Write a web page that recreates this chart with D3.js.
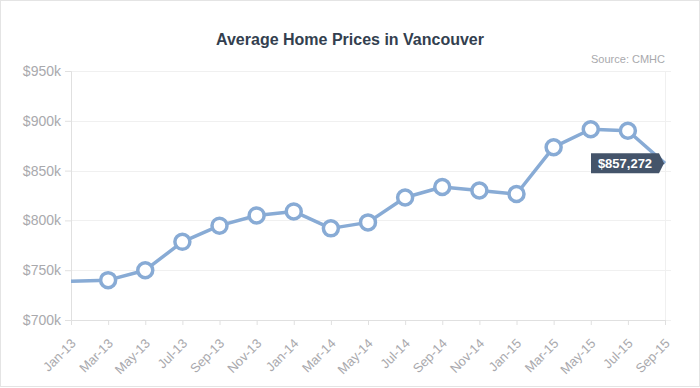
<!DOCTYPE html>
<html>
<head>
<meta charset="utf-8">
<script src="https://cdn.jsdelivr.net/npm/d3@7"></script>
<style>
body{margin:0;background:#fff;}
svg{display:block;font-family:"Liberation Sans",Arial,sans-serif;}
</style>
</head>
<body>
<div id="chart"></div>
<script>
var W = 700, H = 388;
// data
var months = ["Jan-13","Mar-13","May-13","Jul-13","Sep-13","Nov-13","Jan-14","Mar-14","May-14","Jul-14","Sep-14","Nov-14","Jan-15","Mar-15","May-15","Jul-15","Sep-15"];
var prices = [739000,740000,750000,778500,794700,805000,809000,792000,798000,823000,833500,830000,826500,873500,891500,890000,857272];
var yTicks = [700000,750000,800000,850000,900000,950000];

var lineColor = "#88abd5";
var textGray = "#a9a9ad";
var gridColor = "#f0f0f0";

var margin = {top:71, right:35, bottom:68, left:71};

var svg = d3.select("#chart").append("svg")
	.attr("width", W).attr("height", H);

// outer frame
svg.append("rect")
	.attr("x",0.5).attr("y",0.5).attr("width",W-1).attr("height",H-2)
	.attr("fill","#fff").attr("stroke","#e4e4e4");

var x = d3.scalePoint().domain(months).range([margin.left, W-margin.right]);
var y = d3.scaleLinear().domain([700000,950000]).range([H-margin.bottom, margin.top]);

// grid
svg.append("g").selectAll("line")
	.data(yTicks).enter().append("line")
	.attr("x1", margin.left).attr("x2", W-margin.right+6)
	.attr("y1", function(d){return Math.round(y(d))+0.5;})
	.attr("y2", function(d){return Math.round(y(d))+0.5;})
	.attr("stroke", gridColor);
svg.append("line")
	.attr("x1", W-margin.right+0.5).attr("x2", W-margin.right+0.5)
	.attr("y1", margin.top).attr("y2", H-margin.bottom)
	.attr("stroke", gridColor);

// y axis
var yAxis = svg.append("g")
	.attr("transform","translate("+margin.left+",0)")
	.call(d3.axisLeft(y).tickValues(yTicks).tickSize(6).tickPadding(4)
		.tickFormat(function(d){return "$"+(d/1000)+"k";}));
yAxis.select(".domain").attr("stroke","#e0e0e0");
yAxis.selectAll(".tick line").attr("stroke","#e0e0e0");
yAxis.selectAll("text").attr("fill",textGray).attr("font-size",14).attr("font-family","Liberation Sans, Arial, sans-serif");

// x axis
var xAxis = svg.append("g")
	.attr("transform","translate(0,"+(H-margin.bottom)+")")
	.call(d3.axisBottom(x).tickSize(5).tickPadding(4));
xAxis.select(".domain").attr("stroke","#e0e0e0");
xAxis.selectAll(".tick line").attr("stroke","#e0e0e0");
xAxis.selectAll("text")
	.attr("fill",textGray).attr("font-size",13).attr("font-family","Liberation Sans, Arial, sans-serif")
	.attr("text-anchor","end")
	.attr("dy","0.35em")
	.attr("transform","translate(2,21) rotate(-45)")
	.attr("y",0).attr("x",0);

// line
var data = months.map(function(m,i){return {m:m, v:prices[i]};});
svg.append("path")
	.datum(data)
	.attr("fill","none")
	.attr("stroke",lineColor)
	.attr("stroke-width",3.5)
	.attr("stroke-linejoin","round")
	.attr("d", d3.line().x(function(d){return x(d.m);}).y(function(d){return y(d.v);}));

// markers (first and last without circle)
svg.append("g").selectAll("circle")
	.data(data.slice(1, data.length-1)).enter().append("circle")
	.attr("cx", function(d){return x(d.m);})
	.attr("cy", function(d){return y(d.v);})
	.attr("r", 7.5)
	.attr("fill","#fff")
	.attr("stroke",lineColor)
	.attr("stroke-width",3.5);

// tooltip on last point
var last = data[data.length-1];
var tx = x(last.m), ty = y(last.v);
var tip = svg.append("g");
tip.append("path")
	.attr("d","M"+(tx-74)+","+(ty-10)+"h"+68+"l"+5+","+10+"l"+(-5)+","+10+"h"+(-68)+"z")
	.attr("fill","#44546a");
tip.append("text")
	.attr("x", tx-40).attr("y", ty+4.5)
	.attr("text-anchor","middle")
	.attr("fill","#fff").attr("font-size",13).attr("font-weight","bold")
	.text("$"+d3.format(",")(last.v));

// title
svg.append("text")
	.attr("x", W/2).attr("y", 45)
	.attr("text-anchor","middle")
	.attr("fill","#333f4f").attr("font-size",16).attr("font-weight","bold")
	.text("Average Home Prices in Vancouver");
svg.append("text")
	.attr("x", W-margin.right).attr("y", 63)
	.attr("text-anchor","end")
	.attr("fill","#a9a9ad").attr("font-size",11)
	.text("Source: CMHC");
</script>
</body>
</html>
